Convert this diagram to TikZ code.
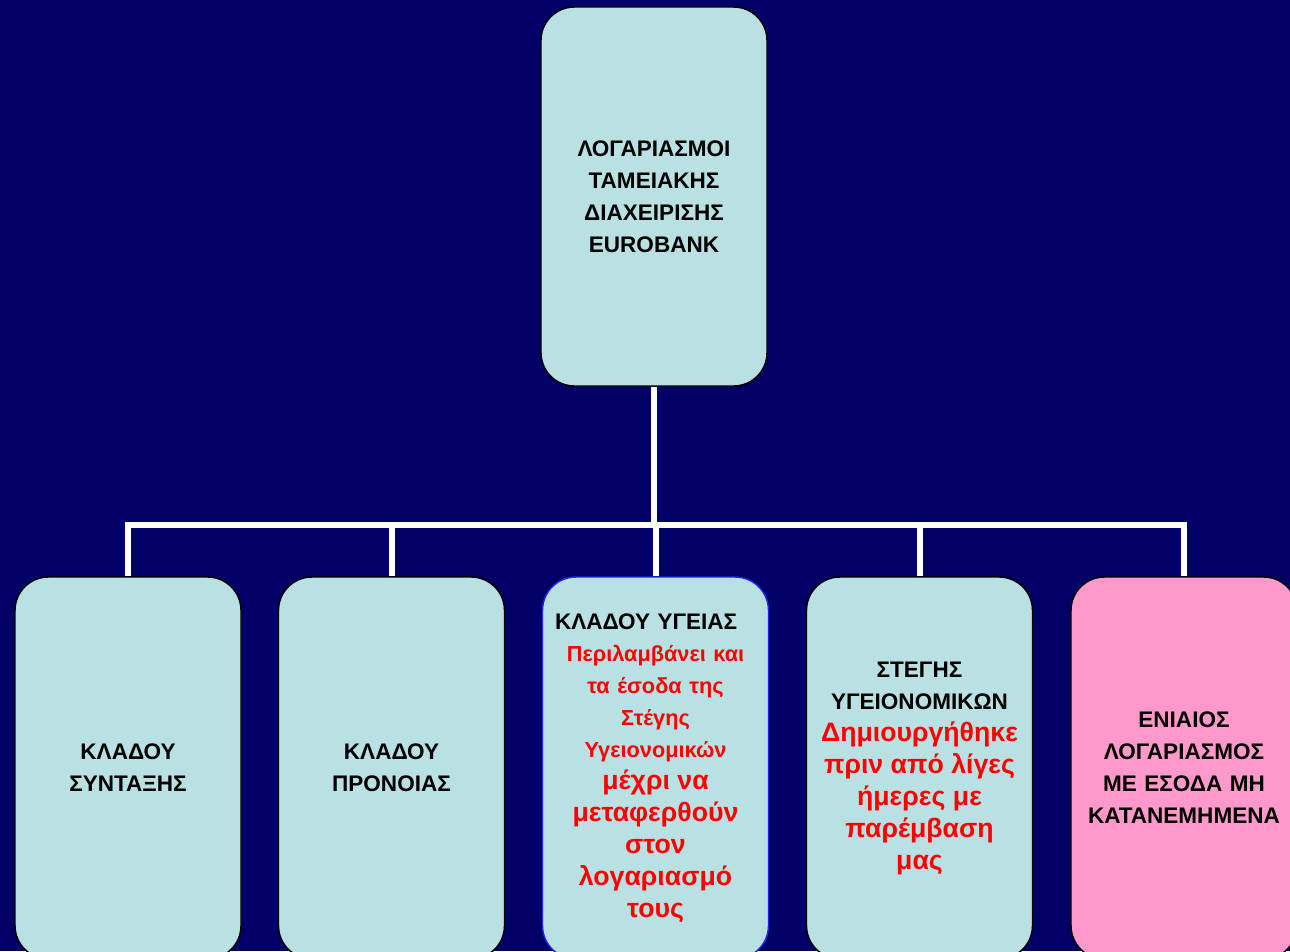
\documentclass[tikz,border=0pt]{standalone}
\usepackage{fontspec}
\setmainfont{Liberation Sans}
\definecolor{navy}{HTML}{000066}
\definecolor{boxfill}{HTML}{B9E0E3}
\definecolor{pinkfill}{HTML}{FF99CC}
\definecolor{edgeblue}{HTML}{2222EE}
\newcommand{\bk}{\fontsize{16.9}{24}\selectfont\bfseries}
\newcommand{\rs}{\color{red}\fontsize{16.3}{24}\selectfont\bfseries}
\newcommand{\rl}{\color{red}\fontsize{20}{24}\selectfont\bfseries}

\begin{document}
\begin{tikzpicture}[x=0.75pt,y=-0.75pt,
    acct/.style={draw=black,line width=1.1pt,fill=boxfill,rounded corners=25pt,
      minimum width=169.5pt,minimum height=286.5pt,inner sep=0pt,
      text width=150.75pt,align=center,font=\bk},
    wire/.style={draw=white,line width=4.5pt}]
        % background
        \fill [navy] (0,0) rectangle (1290,951);
        \useasboundingbox (0,0) rectangle (1290,951);
        % boxes
        \node [acct,minimum height=284.25pt] (root) at (654,196.5)
          {ΛΟΓΑΡΙΑΣΜΟΙ\\ΤΑΜΕΙΑΚΗΣ\\ΔΙΑΧΕΙΡΙΣΗΣ\\EUROBANK};
        \node [acct] (synt) at (128,768)
          {ΚΛΑΔΟΥ\\ΣΥΝΤΑΞΗΣ};
        \node [acct] (pron) at (391.5,768)
          {ΚΛΑΔΟΥ\\ΠΡΟΝΟΙΑΣ};
        \node [acct,draw=edgeblue] (ygeia) at (655.5,768)
          {\makebox[\linewidth][l]{ΚΛΑΔΟΥ ΥΓΕΙΑΣ}\\
           \rs Περιλαμβάνει και\\τα έσοδα της\\Στέγης\\Υγειονομικών\\
           \rl μέχρι να\\μεταφερθούν\\στον\\λογαριασμό\\τους};
        \node [acct] (stegi) at (919.5,768)
          {ΣΤΕΓΗΣ\\ΥΓΕΙΟΝΟΜΙΚΩΝ\\
           \rl Δημιουργήθηκε\\πριν από λίγες\\ήμερες με\\παρέμβαση\\μας};
        \node [acct,fill=pinkfill] (eniaios) at (1184,768)
          {ΕΝΙΑΙΟΣ\\ΛΟΓΑΡΙΑΣΜΟΣ\\ΜΕ ΕΣΟΔΑ ΜΗ\\ΚΑΤΑΝΕΜΗΜΕΝΑ};
        % connectors
        \coordinate (bus) at (654,525);
        \draw [wire] (root.south) -- (bus);
        \draw [wire] (synt.north) -- (synt.north |- bus) -- (eniaios.north |- bus) -- (eniaios.north);
        \draw [wire] (pron.north) -- (pron.north |- bus);
        \draw [wire] (ygeia.north) -- (ygeia.north |- bus);
        \draw [wire] (stegi.north) -- (stegi.north |- bus);
\end{tikzpicture}
\end{document}
